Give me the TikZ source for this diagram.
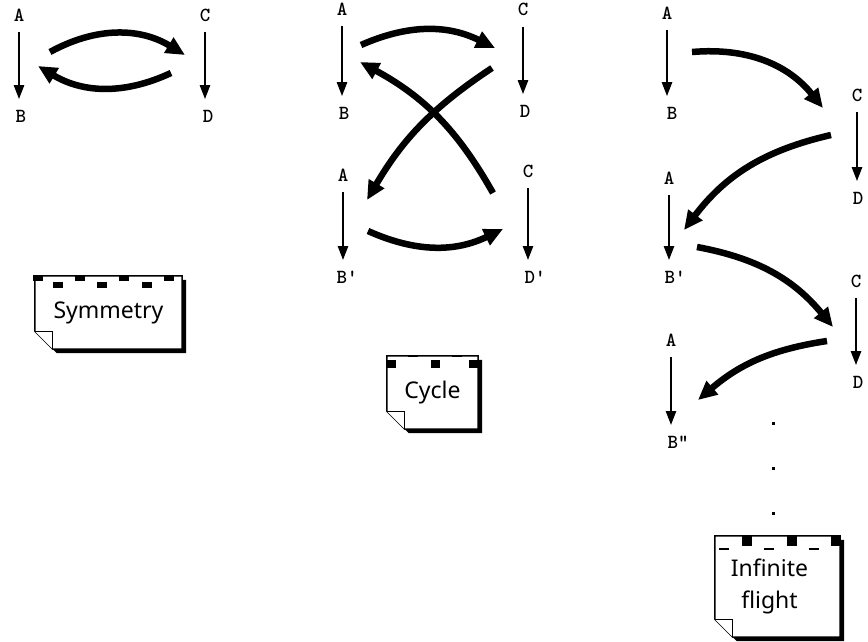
\documentclass[tikz,border=0pt]{standalone}
\usepackage{fontspec}
\setsansfont{Noto Sans}
\usetikzlibrary{shapes,arrows.meta,positioning,backgrounds}

\tikzset{
  lbl/.style={font=\ttfamily\bfseries\fontsize{20}{20}\selectfont, inner xsep=2pt, inner ysep=10.5pt},
  flow/.style={line width=2.4pt, -{Triangle[length=14pt,width=10pt]}},
  jump/.style={line width=6.5pt, -{Triangle[length=19pt,width=17pt]}},
  note/.style={font=\sffamily\fontsize{23}{32}\selectfont, align=center, inner sep=0pt},
}

% note card with shadow and folded corner, drawn behind node #1
\newcommand{\notebox}[1]{%
  \begin{scope}[on background layer]
    \fill ([shift={(4pt,-4pt)}]#1.north west) -- ([shift={(4pt,-4pt)}]#1.north east)
      -- ([shift={(4pt,-4pt)}]#1.south east) -- ([shift={(22pt,-4pt)}]#1.south west)
      -- ([shift={(4pt,14pt)}]#1.south west) -- cycle;
    \draw[fill=white, line width=1.5pt] (#1.north west) -- (#1.north east) -- (#1.south east)
      -- ([xshift=18pt]#1.south west) -- ([yshift=18pt]#1.south west) -- cycle;
    \draw[fill=white, line width=1pt] ([yshift=18pt]#1.south west)
      -- ([shift={(18pt,18pt)}]#1.south west) -- ([xshift=18pt]#1.south west);
  \end{scope}
}

\begin{document}
\begin{tikzpicture}[x=1pt, y=1pt]
\useasboundingbox (0,0) rectangle (868,-642);

% Symmetry
\node (a1) [lbl] at (19,-15) {A};
\node (b1) [lbl] at (21,-116) {B};
\node (c1) [lbl] at (205,-15) {C};
\node (d1) [lbl] at (208,-116) {D};
\draw[flow] (a1) -- (a1 |- b1.north);
\draw[flow] (c1) -- (c1 |- d1.north);
\coordinate (s1) at (50,-52);
\coordinate (t1) at (185,-55);
\coordinate (s2) at (171,-73);
\coordinate (t2) at (38,-66);
\draw[jump] (s1) to[bend left=30] (t1);
\draw[jump] (s2) to[bend left=28] (t2);

\node (sym) [note, minimum width=147, minimum height=73] at (108.5,-312.5) {Symmetry};
\notebox{sym}
\foreach \o in {3.5,45.5,89.5,134.5}
  \fill ([xshift=\o pt]sym.north west) +(-5,1) rectangle +(5,-5);
\foreach \o in {23,67,112}
  \fill ([shift={(\o pt,-9.5pt)}]sym.north west) +(-5,3) rectangle +(5,-3);

% Cycle
\node (a2) [lbl] at (342,-9.5) {A};
\node (b2) [lbl] at (344,-113) {B};
\node (c2) [lbl] at (523,-9.5) {C};
\node (d2) [lbl] at (525,-111) {D};
\node (a3) [lbl] at (343,-175) {A};
\node (b3) [lbl] at (347,-277) {B\textquotesingle};
\node (c3) [lbl] at (528,-171) {C};
\node (d3) [lbl] at (535,-277) {D\textquotesingle};
\draw[flow] (a2) -- (a2 |- b2.north);
\draw[flow] (c2) -- (c2 |- d2.north);
\draw[flow] (a3) -- (a3 |- b3.north);
\draw[flow] (c3) -- (c3 |- d3.north);
\coordinate (s3) at (361,-45);
\coordinate (t3) at (495,-48);
\coordinate (s4) at (492,-68);
\coordinate (t4) at (367,-200);
\coordinate (s5) at (493,-193);
\coordinate (t5) at (360,-62);
\coordinate (s6) at (368,-231);
\coordinate (t6) at (503,-229);
\draw[jump] (s3) to[bend left=25] (t3);
\draw[jump] (s4) to[bend right=13] (t4);
\draw[jump] (s5) to[bend right=16] (t5);
\draw[jump] (s6) to[bend right=25] (t6);

\node (cyc) [note, minimum width=91, minimum height=73] at (432.5,-392.5) {Cycle};
\notebox{cyc}
\foreach \o in {5,49,87}
  \fill ([shift={(\o pt,-8pt)}]cyc.north west) +(-5,4) rectangle +(4,-4);
\foreach \o in {26,70}
  \fill ([xshift=\o pt]cyc.north west) +(-5,1) rectangle +(5,-1.5);

% Infinite flight
\node (a4) [lbl] at (667,-13) {A};
\node (b4) [lbl] at (672,-113) {B};
\node (c4) [lbl] at (857,-95) {C};
\node (d4) [lbl] at (858,-198) {D};
\node (a5) [lbl] at (669,-178) {A};
\node (b5) [lbl] at (675,-277) {B\textquotesingle};
\node (c5) [lbl] at (856,-281) {C};
\node (d5) [lbl] at (858,-382) {D};
\node (a6) [lbl] at (671,-340) {A};
\node (b6) [lbl] at (678,-442) {B\textquotedbl};
\draw[flow] (a4) -- (a4 |- b4.north);
\draw[flow] (c4) -- (c4 |- d4.north);
\draw[flow] (a5) -- (a5 |- b5.north);
\draw[flow] (c5) -- (c5 |- d5.north);
\draw[flow] (a6) -- (a6 |- b6.north);
\coordinate (s7) at (692,-52);
\coordinate (t7) at (823,-108);
\coordinate (s8) at (831,-135);
\coordinate (t8) at (684,-230);
\coordinate (s9) at (697,-247);
\coordinate (t9) at (833,-327);
\coordinate (s10) at (827,-341);
\coordinate (t10) at (698,-400);
\draw[jump] (s7) to[bend left=28] (t7);
\draw[jump] (s8) to[bend right=20] (t8);
\draw[jump] (s9) to[bend left=20] (t9);
\draw[jump] (s10) to[bend right=16] (t10);
\foreach \y in {423,468,513}
  \fill (773,-\y) +(-1.5,1.5) rectangle +(1.5,-1.5);

\node (inf) [note, minimum width=125, minimum height=101] at (777.5,-586.5) {\hspace*{-16pt}Infinite\\\hspace*{-16pt}flight};
\notebox{inf}
\foreach \o in {32,77,121}
  \fill ([xshift=\o pt]inf.north west) +(-5,1) rectangle +(5,-10);
\foreach \o in {9,54,99}
  \fill ([shift={(\o pt,-13pt)}]inf.north west) +(-5,1) rectangle +(5,-1);
\end{tikzpicture}
\end{document}
